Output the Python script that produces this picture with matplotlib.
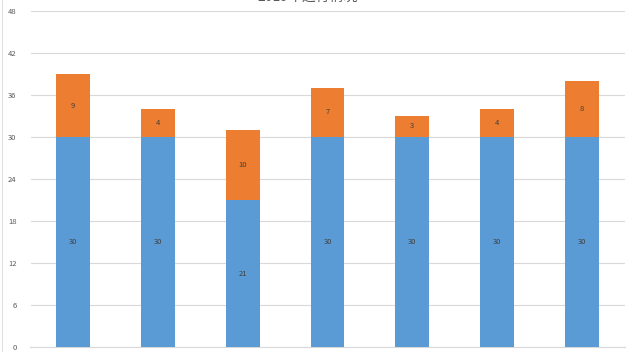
import matplotlib.pyplot as plt
import numpy as np

plt.rcParams['font.family'] = ['Noto Sans CJK SC', 'DejaVu Sans']

# data
categories = ['1', '2', '3', '4', '5', '6', '7']
base_vals = [30, 30, 21, 30, 30, 30, 30]
extra_vals = [9, 4, 10, 7, 3, 4, 8]
yticks = [0, 6, 12, 18, 24, 30, 36, 42, 48]
title = '2019年运行情况'

fig = plt.figure(figsize=(6.4, 3.52), dpi=100)
ax = fig.add_axes([30.5 / 640, 5 / 352, 594 / 640, 336 / 352])

x = np.arange(len(categories))
bw = 0.4
b1 = ax.bar(x, base_vals, bw, color='#5B9BD5', zorder=3)
b2 = ax.bar(x, extra_vals, bw, bottom=base_vals, color='#ED7D31', zorder=3)

for i in range(len(x)):
    ax.text(x[i], base_vals[i] / 2, str(base_vals[i]), ha='center', va='center',
            fontsize=5.5, color='#404040', zorder=4)
    ax.text(x[i], base_vals[i] + extra_vals[i] / 2, str(extra_vals[i]), ha='center',
            va='center', fontsize=5.5, color='#404040', zorder=4)

ax.set_xlim(-0.5, len(x) - 0.5)
ax.set_ylim(0, 48)
ax.set_yticks(yticks)
ax.set_yticklabels([str(t) for t in yticks], fontsize=5.5, color='#595959')
ax.tick_params(axis='y', length=0, pad=10)
ax.set_xticks([])
ax.grid(axis='y', color='#D9D9D9', linewidth=0.8, zorder=0)
for s in ['top', 'right', 'left']:
    ax.spines[s].set_visible(False)
ax.spines['bottom'].set_color('#D9D9D9')

# faint chart border on the left edge
fig.add_artist(plt.Line2D([1.5 / 640, 1.5 / 640], [0, 1], color='#E0E0E0', linewidth=0.8))

# title is partly cut off at the top, as in the source image
fig.text(0.48, 1.008, title, ha='center', va='center', fontsize=10, color='#595959')

fig.savefig('out.png', dpi=100)
